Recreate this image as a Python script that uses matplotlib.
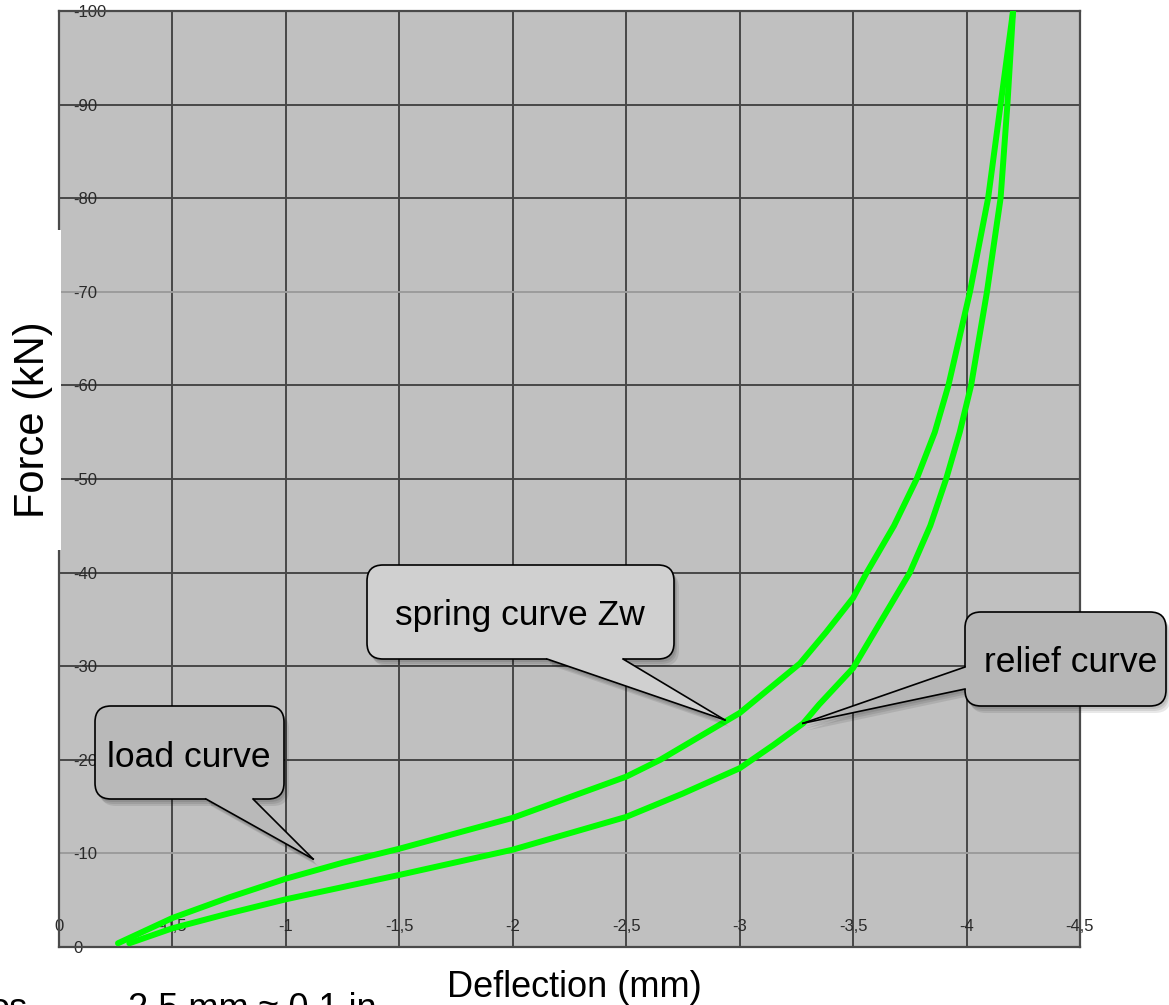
import matplotlib
matplotlib.use("Agg")
import matplotlib.pyplot as plt
from matplotlib import transforms
from matplotlib.patches import FancyBboxPatch, Polygon, Rectangle
from matplotlib.lines import Line2D

# load curve (upper branch), deflection in mm, force in kN
load_x = [-0.26, -0.5, -0.75, -1.0, -1.25, -1.5, -2.0, -2.5, -2.65, -3.0, -3.266, -3.38,
          -3.5, -3.56, -3.68, -3.78, -3.86, -3.92, -4.015, -4.095, -4.15, -4.205]
load_y = [-0.4, -3.1, -5.3, -7.3, -9.0, -10.5, -13.8, -18.2, -20.0, -25.0, -30.3, -33.6,
          -37.3, -40.0, -45.0, -50.0, -55.0, -60.0, -70.0, -80.0, -90.0, -100.0]

# relief curve (lower branch)
relief_x = [-0.31, -0.5, -0.75, -1.0, -1.5, -2.0, -2.5, -2.75, -3.0, -3.15, -3.28, -3.35,
            -3.5, -3.75, -3.84, -3.91, -3.97, -4.02, -4.09, -4.15, -4.18, -4.205]
relief_y = [-0.4, -2.0, -3.6, -5.1, -7.7, -10.4, -13.9, -16.4, -19.1, -21.6, -23.9, -25.9,
            -29.8, -40.0, -45.0, -50.0, -55.0, -60.0, -70.0, -80.0, -90.0, -100.0]

x_ticks = [0, -0.5, -1, -1.5, -2, -2.5, -3, -3.5, -4, -4.5]
x_labels = ["0", "-0,5", "-1", "-1,5", "-2", "-2,5", "-3", "-3,5", "-4", "-4,5"]
y_ticks = [0, -10, -20, -30, -40, -50, -60, -70, -80, -90, -100]
y_labels = ["0", "-10", "-20", "-30", "-40", "-50", "-60", "-70", "-80", "-90", "-100"]

# where the callouts point to (data coords)
load_tip = (-1.12, -9.4)
spring_tip = (-2.935, -24.25)
relief_tip = (-3.279, -23.9)

W, H = 1169, 1005
plt.rcParams["font.family"] = ["Liberation Sans", "DejaVu Sans"]

fig = plt.figure(figsize=(W / 100, H / 100), dpi=100)
ax = fig.add_axes([59 / W, 1 - 947 / H, 1021 / W, 936 / H])
ax.set_facecolor("#c0c0c0")

ax.plot(load_x, load_y, color="#00ff00", lw=4.3, solid_capstyle="round",
        solid_joinstyle="round", zorder=3)
ax.plot(relief_x, relief_y, color="#00ff00", lw=4.3, solid_capstyle="round",
        solid_joinstyle="round", zorder=3)

ax.set_xlim(0, -4.5)
ax.set_ylim(0, -100)
ax.set_xticks(x_ticks)
ax.set_xticklabels(x_labels)
ax.set_yticks(y_ticks)
ax.set_yticklabels(y_labels)
ax.tick_params(axis="both", length=0, labelsize=12, labelcolor="#2a2a2a")
ax.tick_params(axis="x", pad=-20)
ax.tick_params(axis="y", pad=-10)
for lab in ax.get_yticklabels():
    lab.set_ha("left")

ax.grid(True, color="#474747", lw=1.4)
for val, gl in zip(y_ticks, ax.get_ygridlines()):
    if val in (-10, -70):
        gl.set_color("#9c9c9c")
for sp in ax.spines.values():
    sp.set_color("#4a4a4a")
    sp.set_linewidth(1.6)

# pixel space of the picture: x right, y down
pix = transforms.Affine2D().scale(1 / 100, -1 / 100).translate(0, H / 100) + fig.dpi_scale_trans


def to_pix(pt):
    return pix.inverted().transform(ax.transData.transform(pt))


# white strip behind the y label
fig.patches.append(Rectangle((0, 230), 61, 320, transform=pix, fc="white", ec="none", zorder=1))


def callout(box, b1, b2, tip_data, inward, fc, text, tx, ty, ha):
    x0, y0, x1, y1 = box
    tip = to_pix(tip_data)
    b1in = (b1[0] + inward[0], b1[1] + inward[1])
    b2in = (b2[0] + inward[0], b2[1] + inward[1])
    # soft shadow
    for dx, dy in [(2, 3), (3, 5), (5, 7)]:
        fig.patches.append(FancyBboxPatch((x0 + dx, y0 + dy), x1 - x0, y1 - y0,
                                          boxstyle="round,pad=0,rounding_size=16",
                                          transform=pix, fc="black", ec="none",
                                          alpha=0.09, zorder=4))
        fig.patches.append(Polygon([(b1in[0] + dx, b1in[1] + dy), (b1[0] + dx, b1[1] + dy),
                                    (tip[0] + dx, tip[1] + dy), (b2[0] + dx, b2[1] + dy),
                                    (b2in[0] + dx, b2in[1] + dy)],
                                   closed=True, transform=pix, fc="black", ec="none",
                                   alpha=0.09, zorder=4))
    fig.patches.append(FancyBboxPatch((x0, y0), x1 - x0, y1 - y0,
                                      boxstyle="round,pad=0,rounding_size=16",
                                      transform=pix, fc=fc, ec="black", lw=1.2, zorder=5))
    fig.patches.append(Polygon([b1in, b1, tip, b2, b2in], closed=True, transform=pix,
                               fc=fc, ec="none", zorder=6))
    for b in (b1, b2):
        fig.lines.append(Line2D([b[0], tip[0]], [b[1], tip[1]], transform=pix,
                                color="black", lw=1.2, zorder=7))
    fig.text(tx, ty, text, transform=pix, fontsize=25.5, color="black",
             ha=ha, va="baseline", zorder=8)


callout((95, 706, 284, 799), (206, 799), (253, 799), load_tip, (0, -5),
        "#b9b9b9", "load curve", 189, 767, "center")
callout((367, 565, 674, 659), (547, 659), (623, 659), spring_tip, (0, -5),
        "#d0d0d0", "spring curve Zw", 520, 625, "center")
callout((965, 612, 1166, 706), (965, 667), (965, 689), relief_tip, (5, 0),
        "#b6b6b6", "relief curve", 984, 672, "left")

fig.text(33, 420, "Force (kN)", transform=pix, fontsize=30, rotation=90,
         ha="center", va="center")
fig.text(574, 997, "Deflection (mm)", transform=pix, fontsize=26, ha="center", va="baseline")
# these two run off the bottom edge in the original too
fig.text(128, 1019, "2.5 mm \u2248 0.1 in", transform=pix, fontsize=26, ha="left", va="baseline")
fig.text(28, 1019, "os", transform=pix, fontsize=26, ha="right", va="baseline")

fig.savefig("out.png", dpi=100)
